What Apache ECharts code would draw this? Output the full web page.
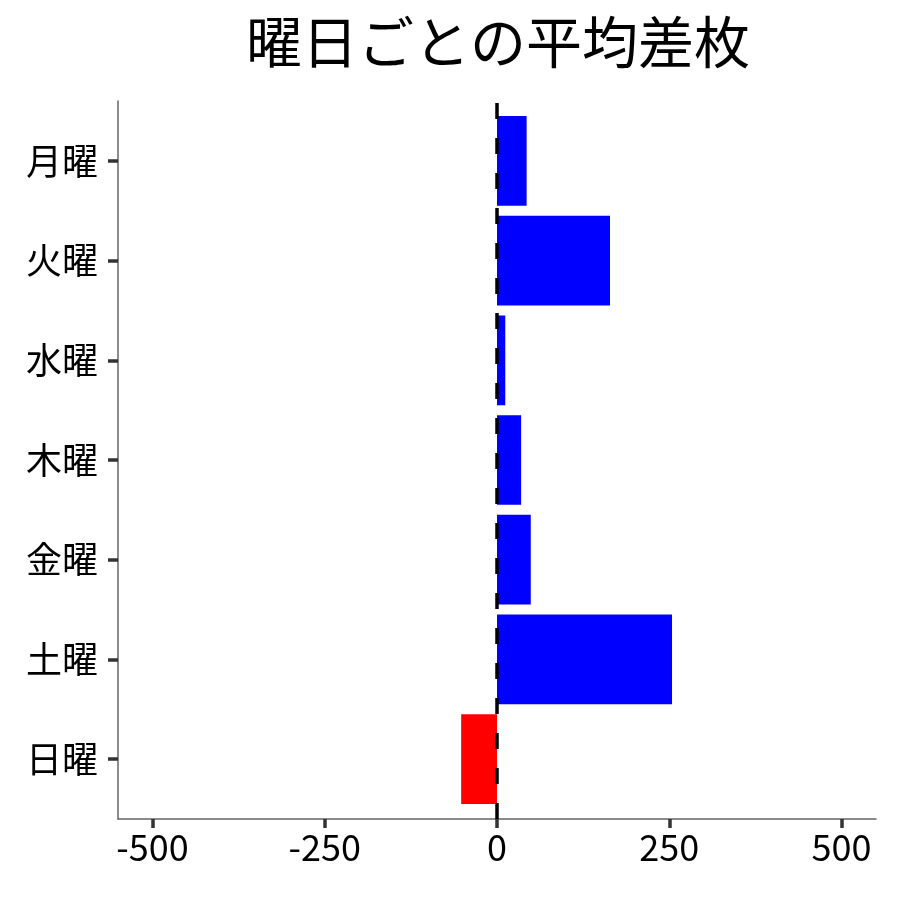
<!DOCTYPE html>
<html>
<head>
<meta charset="utf-8">
<script src="https://cdn.jsdelivr.net/npm/echarts@6/dist/echarts.min.js"></script>
<style>
  html, body { margin: 0; padding: 0; background: #fff; }
  #chart { width: 900px; height: 900px; }
</style>
</head>
<body>
<div id="chart"></div>
<script>
// 曜日ごとの平均差枚
const days = ['月曜', '火曜', '水曜', '木曜', '金曜', '土曜', '日曜'];
const avgDiff = [43, 164, 12, 35, 49, 254, -52];
const xTicks = [-500, -250, 0, 250, 500];

const font = 'Noto Sans CJK JP';
const chart = echarts.init(document.getElementById('chart'));

// grid 0: bars (categories padded a bit more, like ggplot's discrete expand)
// grid 1: full panel frame, x axis and the dashed zero line
chart.setOption({
  backgroundColor: '#fff',
  animation: false,
  title: {
    text: '曜日ごとの平均差枚',
    left: 241,
    top: 9,
    textStyle: { fontFamily: font, fontSize: 56, fontWeight: 'normal', color: '#000' }
  },
  grid: [
    { left: 118, right: 24, top: 111, bottom: 91 },
    { left: 118, right: 24, top: 101, bottom: 81 }
  ],
  xAxis: [
    { gridIndex: 0, type: 'value', min: -550, max: 550, show: false },
    {
      gridIndex: 1,
      type: 'value',
      min: -550,
      max: 550,
      splitLine: { show: false },
      axisLine: { show: true, onZero: false, lineStyle: { color: '#666', width: 1.5 } },
      axisTick: { show: true, customValues: xTicks, length: 9, lineStyle: { color: '#333', width: 3.5 } },
      axisLabel: { customValues: xTicks, fontFamily: font, fontSize: 36, color: '#000', margin: 10 }
    }
  ],
  yAxis: [
    {
      gridIndex: 0,
      type: 'category',
      data: days,
      inverse: true,
      axisLine: { show: false, onZero: false },
      axisTick: { show: true, alignWithLabel: true, length: 10, lineStyle: { color: '#333', width: 3.5 } },
      axisLabel: { fontFamily: font, fontSize: 36, color: '#000', margin: 20 }
    },
    {
      gridIndex: 1,
      type: 'value',
      min: 0,
      max: 1,
      splitLine: { show: false },
      axisLine: { show: true, onZero: false, lineStyle: { color: '#666', width: 1.5 } },
      axisTick: { show: false },
      axisLabel: { show: false }
    }
  ],
  series: [
    {
      type: 'bar',
      xAxisIndex: 0,
      yAxisIndex: 0,
      data: avgDiff,
      barWidth: '90%',
      itemStyle: {
        color: (p) => (p.value < 0 ? '#ff0000' : '#0000ff')
      }
    },
    {
      type: 'line',
      xAxisIndex: 1,
      yAxisIndex: 1,
      data: [],
      markLine: {
        silent: true,
        symbol: 'none',
        label: { show: false },
        lineStyle: { color: '#000', width: 3.5, type: [16, 19] },
        data: [{ xAxis: 0 }]
      }
    }
  ]
});
</script>
</body>
</html>
